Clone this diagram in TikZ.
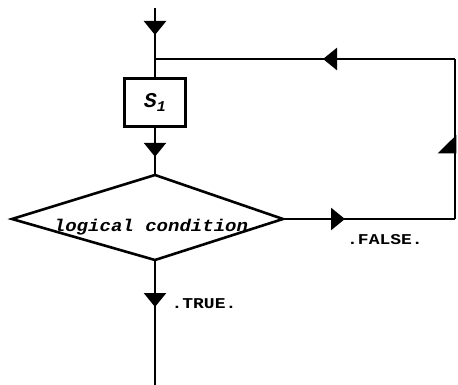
\documentclass[tikz,border=0pt]{standalone}
\usepackage{fontspec}
\usetikzlibrary{arrows.meta,decorations.markings}
\newfontfamily\labfont{Liberation Mono}
\begin{document}
\begin{tikzpicture}[x=1pt,y=-1pt,
  flow/.style={line width=2.6pt,line join=miter},
  tri/.tip={Triangle[width=22pt,length=14pt]},
  midarrow/.style={postaction={decorate,decoration={markings,
      mark=at position #1 with {\arrow{tri}}}}},
  halfarrow/.style={postaction={decorate,decoration={markings,
      mark=at position #1 with {\arrow{Triangle[width=34pt,length=17pt,harpoon]}}}}},
  procbox/.style={draw,line width=2.6pt,minimum width=61pt,minimum height=48pt,inner sep=0pt},
  lab/.style={font=\labfont\bfseries\fontsize{15}{15}\selectfont,inner sep=0pt}
]
\useasboundingbox (0,0) rectangle (458,385);
% coordinates
\coordinate (start) at (155,8);
\coordinate (junc) at (155,59);
\coordinate (tr) at (455,59);
\coordinate (fr) at (455,219);
\coordinate (end) at (155,390);
\coordinate (ctop) at (155,175);
\coordinate (cleft) at (12,219);
\coordinate (cright) at (283,219);
\coordinate (cbot) at (155,260);
% process box
\node[procbox] (s1) at (155,102.5) {\labfont\bfseries\itshape\fontsize{21}{21}\selectfont S\raisebox{-0.4ex}{\fontsize{15}{15}\selectfont 1}};
% decision diamond
\draw[line width=2.6pt,line join=miter] (ctop) -- (cright) -- (cbot) -- (cleft) -- cycle;
\node[inner sep=0pt] (cond) at (151,227) {\scalebox{1.12}[1]{\labfont\bfseries\itshape\fontsize{17}{17}\selectfont logical condition}};
% connectors
\draw[flow,midarrow=27pt] (start) -- (s1.north);
\draw[flow,midarrow=29pt] (s1.south) -- (ctop);
\draw[flow,midarrow=62pt] (cright) -- (fr);
\draw[flow,halfarrow=84pt] (fr) -- (tr);
\draw[flow,midarrow=132pt] (tr) -- (junc);
\draw[flow,midarrow=47pt] (cbot) -- (end);
% labels
\node[lab] (flab) at (385,240) {\scalebox{1.2}[1]{.FALSE.}};
\node[lab] (tlab) at (204,304) {\scalebox{1.2}[1]{.TRUE.}};
\end{tikzpicture}
\end{document}
